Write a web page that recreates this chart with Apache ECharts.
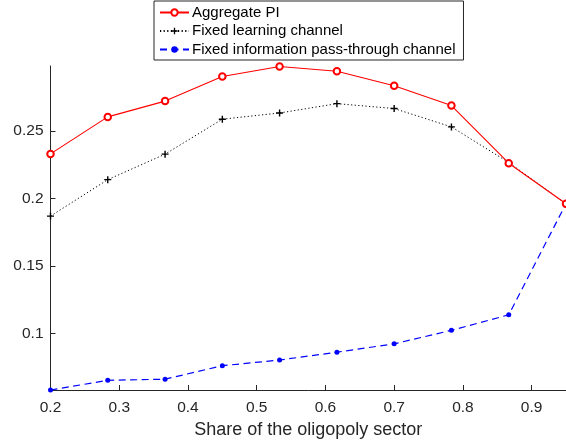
<!DOCTYPE html>
<html>
<head>
<meta charset="utf-8">
<script src="https://cdn.jsdelivr.net/npm/echarts@6/dist/echarts.min.js"></script>
<style>html,body{margin:0;padding:0;background:#fff;}#c{width:566px;height:444px;}</style>
</head>
<body>
<div id="c"></div>
<script>
const shares = [0.2, 0.2833, 0.3667, 0.45, 0.5333, 0.6167, 0.7, 0.7833, 0.8667, 0.95];
const aggregatePI = [0.2329, 0.2603, 0.2720, 0.2902, 0.2976, 0.2941, 0.2834, 0.2687, 0.2260, 0.196];
const fixedLearning = [0.1868, 0.2138, 0.2327, 0.2586, 0.2632, 0.2701, 0.2665, 0.2529, 0.2265, 0.196];
const fixedPassThrough = [0.0580, 0.0652, 0.0660, 0.0760, 0.0802, 0.0860, 0.0922, 0.1022, 0.1137, 0.196];
const xTicks = [0.2, 0.3, 0.4, 0.5, 0.6, 0.7, 0.8, 0.9];
const yTicks = [0.1, 0.15, 0.2, 0.25];
const seriesNames = ['Aggregate PI', 'Fixed learning channel', 'Fixed information pass-through channel'];

const pair = (ys) => shares.map((x, i) => [x, ys[i]]);
const axisCol = '#262626';
const font = 'Liberation Sans, Arial, Helvetica, sans-serif';
const chart = echarts.init(document.getElementById('c'), null, {renderer: 'canvas'});
chart.setOption({
  animation: false,
  backgroundColor: '#fff',
  grid: {left: 50.5, right: -5.5, top: 66, bottom: 51, containLabel: false},
  legend: {
    orient: 'vertical', left: 154, top: 1, z: 10,
    backgroundColor: '#fff', borderColor: axisCol, borderWidth: 1,
    padding: [4, 8, 3, 5], itemWidth: 29, itemHeight: 8, itemGap: 3.5,
    textStyle: {fontFamily: font, fontSize: 15, lineHeight: 15, color: '#000', padding: [0,0,0,-2]},
    data: seriesNames
  },
  xAxis: {
    type: 'value', min: 0.2, max: 0.95,
    name: 'Share of the oligopoly sector', nameLocation: 'middle', nameGap: 31,
    nameTextStyle: {fontFamily: font, fontSize: 18, color: axisCol},
    axisLine: {show: true, lineStyle: {color: axisCol, width: 1}},
    axisTick: {show: true, inside: true, length: 5, customValues: xTicks, lineStyle: {color: axisCol}},
    axisLabel: {customValues: xTicks, fontFamily: font, fontSize: 15.5, color: axisCol, margin: 10,
      formatter: v => String(+v.toFixed(2))},
    splitLine: {show: false}
  },
  yAxis: {
    type: 'value', min: 0.058, max: 0.298,
    axisLine: {show: true, lineStyle: {color: axisCol, width: 1}},
    axisTick: {show: true, inside: true, length: 5, customValues: yTicks, lineStyle: {color: axisCol}},
    axisLabel: {customValues: yTicks, fontFamily: font, fontSize: 15.5, color: axisCol, margin: 7,
      formatter: v => String(+v.toFixed(2))},
    splitLine: {show: false}
  },
  series: [
    {
      name: seriesNames[0], type: 'line', data: pair(aggregatePI), z: 3,
      symbol: 'emptyCircle', symbolSize: 6.5, showAllSymbol: true,
      lineStyle: {color: '#ff0000', width: 1.1},
      itemStyle: {color: '#ff0000', borderColor: '#ff0000', borderWidth: 0.9}
    },
    {
      name: seriesNames[1], type: 'line', data: pair(fixedLearning), z: 2,
      symbol: 'path://M4,0H6V4H10V6H6V10H4V6H0V4H4Z', symbolSize: 7, showAllSymbol: true,
      lineStyle: {color: '#000', width: 1, type: [1.2, 2.4]},
      itemStyle: {color: '#000'}
    },
    {
      name: seriesNames[2], type: 'line', data: pair(fixedPassThrough), z: 1,
      symbol: 'circle', symbolSize: 5, showAllSymbol: true,
      lineStyle: {color: '#0000ff', width: 1.2, type: [7, 4.5]},
      itemStyle: {color: '#0000ff'}
    }
  ]
});
</script>
</body>
</html>
